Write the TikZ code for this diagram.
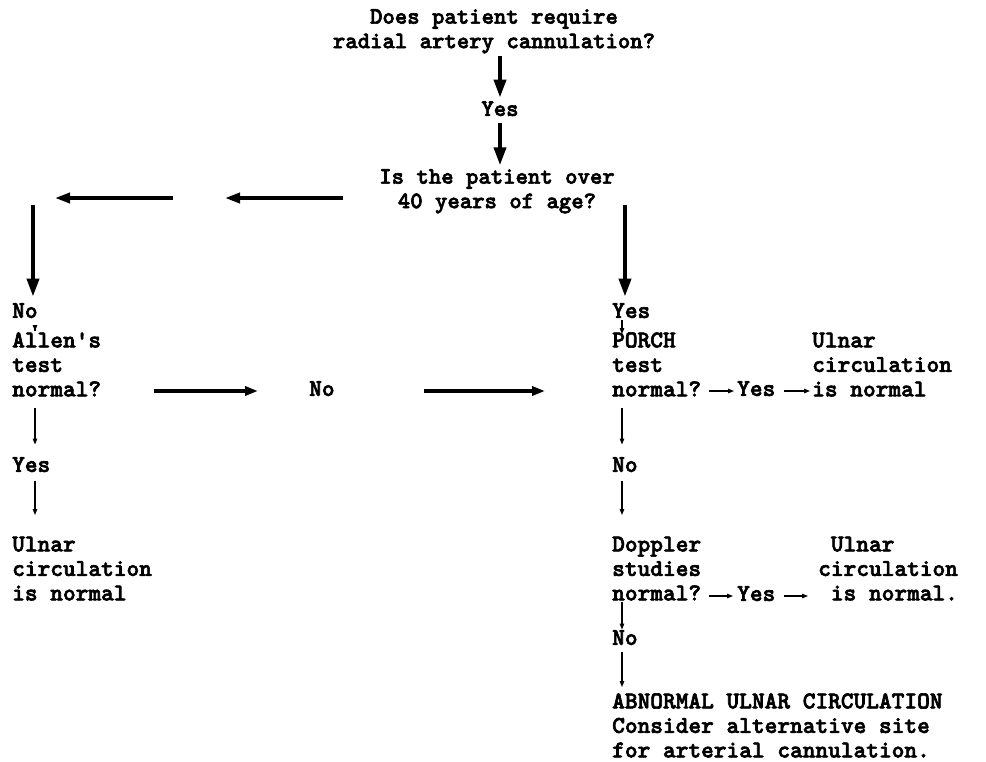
\documentclass[tikz,border=0pt]{standalone}
\usepackage{fontspec}
\newfontfamily\typew{lmmonolt10-bold.otf}[FakeBold=2.5]
\usetikzlibrary{arrows.meta}
\begin{document}
\begin{tikzpicture}[x=1pt,y=-1pt,
  txt/.style={font=\typew\fontsize{24.2}{24.5}\selectfont, inner sep=0pt, align=left, anchor=west},
  ctxt/.style={font=\typew\fontsize{23.6}{24.5}\selectfont, inner sep=0pt, align=center, anchor=center},
  big/.style={line width=3.8pt, -{Triangle[length=18pt,width=12pt]}},
  bigh/.style={line width=3.6pt, -{Triangle[length=15pt,width=10pt]}},
  mid/.style={line width=3.3pt, -{Triangle[length=13pt,width=9pt]}},
  thin/.style={line width=1.1pt, -{Triangle[length=6pt,width=4.5pt]}},
]
\useasboundingbox (0,0) rectangle (986,761);
\coordinate (xl) at (35,0);
\coordinate (xr) at (622,0);
% top
\node[ctxt] (q1) at (494,31) {\strut Does patient require\\\strut radial artery cannulation?};
\node[ctxt] (y1) at (500,111) {\strut Yes};
\node[ctxt] (q2) at (497,191) {\strut Is the patient over\\\strut 40 years of age?};
\draw[big] (y1.north |- q1.south) -- ([yshift=1pt]y1.north);
\draw[big] (y1.south) -- ([yshift=1pt]y1.south |- q2.north);
% left branch
\coordinate (c1) at (343,198);
\coordinate (c2) at (225,198);
\coordinate (c3) at (173,198);
\coordinate (c4) at (55,198);
\coordinate (c5) at (33,205);
\node[txt] (nol) at (12,313) {\strut No};
\node[txt] (al) at (12,367) {\strut Allen's\\\strut test\\\strut normal?};
\node[txt] (yl) at (12,467) {\strut Yes};
\node[txt] (ul) at (12,571) {\strut Ulnar\\\strut circulation\\\strut is normal};
\draw[bigh] (c1) -- (c2);
\draw[bigh] (c3) -- (c4);
\draw[big] (c5) -- ([yshift=4pt]nol.north -| c5);
\draw[thin, shorten <=-6pt, shorten >=-1pt] (nol.south -| xl) -- (al.north -| xl);
\draw[thin, shorten <=4pt, shorten >=10pt] (al.south -| xl) -- (yl.north -| xl);
\draw[thin, shorten <=2pt, shorten >=19pt] (yl.south -| xl) -- (ul.north -| xl);
% middle
\node[txt] (nom) at (309,391) {\strut No};
\node[txt] (pr) at (612,367) {\strut PORCH\\\strut test\\\strut normal?};
\draw[mid, shorten <=53pt, shorten >=51pt] (al.east |- nom.west) -- (nom.west);
\draw[mid, shorten <=89pt, shorten >=67pt] (nom.east) -- (pr.west |- nom.east);
% right branch
\coordinate (r0) at (625,205);
\node[txt] (nor) at (612,313) {\strut Yes};
\node[txt] (yr1) at (737,391) {\strut Yes};
\node[txt] (ur1) at (812,367) {\strut Ulnar\\\strut circulation\\\strut is normal};
\node[txt] (no2) at (612,467) {\strut No};
\node[txt] (dp) at (612,571) {\strut Doppler\\\strut studies\\\strut normal?};
\node[txt] (yr2) at (737,596) {\strut Yes};
\node[txt] (ur2) at (818,571) {\strut \hphantom{x}Ulnar\\\strut circulation\\\strut \hphantom{x}is normal.};
\node[txt] (no3) at (612,640) {\strut No};
\node[txt] (ab) at (612,728) {\strut ABNORMAL ULNAR CIRCULATION\\\strut Consider alternative site\\\strut for arterial cannulation.};
\draw[big] (r0) -- ([yshift=4pt]nor.north -| r0);
\draw[thin, shorten <=-5pt, shorten >=-4pt] (nor.south -| xr) -- (pr.north -| xr);
\draw[thin, shorten <=4pt, shorten >=10pt] (pr.south -| xr) -- (no2.north -| xr);
\draw[thin, shorten <=2pt, shorten >=19pt] (no2.south -| xr) -- (dp.north -| xr);
\draw[thin, shorten <=-6pt, shorten >=-2pt] (dp.south -| xr) -- (no3.north -| xr);
\draw[thin, shorten >=4pt] (no3.south -| xr) -- (ab.north -| xr);
\draw[thin, shorten <=8pt, shorten >=3pt] (pr.east |- yr1.west) -- (yr1.west);
\draw[thin, shorten <=8pt, shorten >=2pt] (yr1.east) -- (ur1.west |- yr1.east);
\draw[thin, shorten <=8pt, shorten >=4pt] (dp.east |- yr2.west) -- (yr2.west);
\draw[thin, shorten <=8pt, shorten >=10pt] (yr2.east) -- (ur2.west |- yr2.east);
\end{tikzpicture}
\end{document}
